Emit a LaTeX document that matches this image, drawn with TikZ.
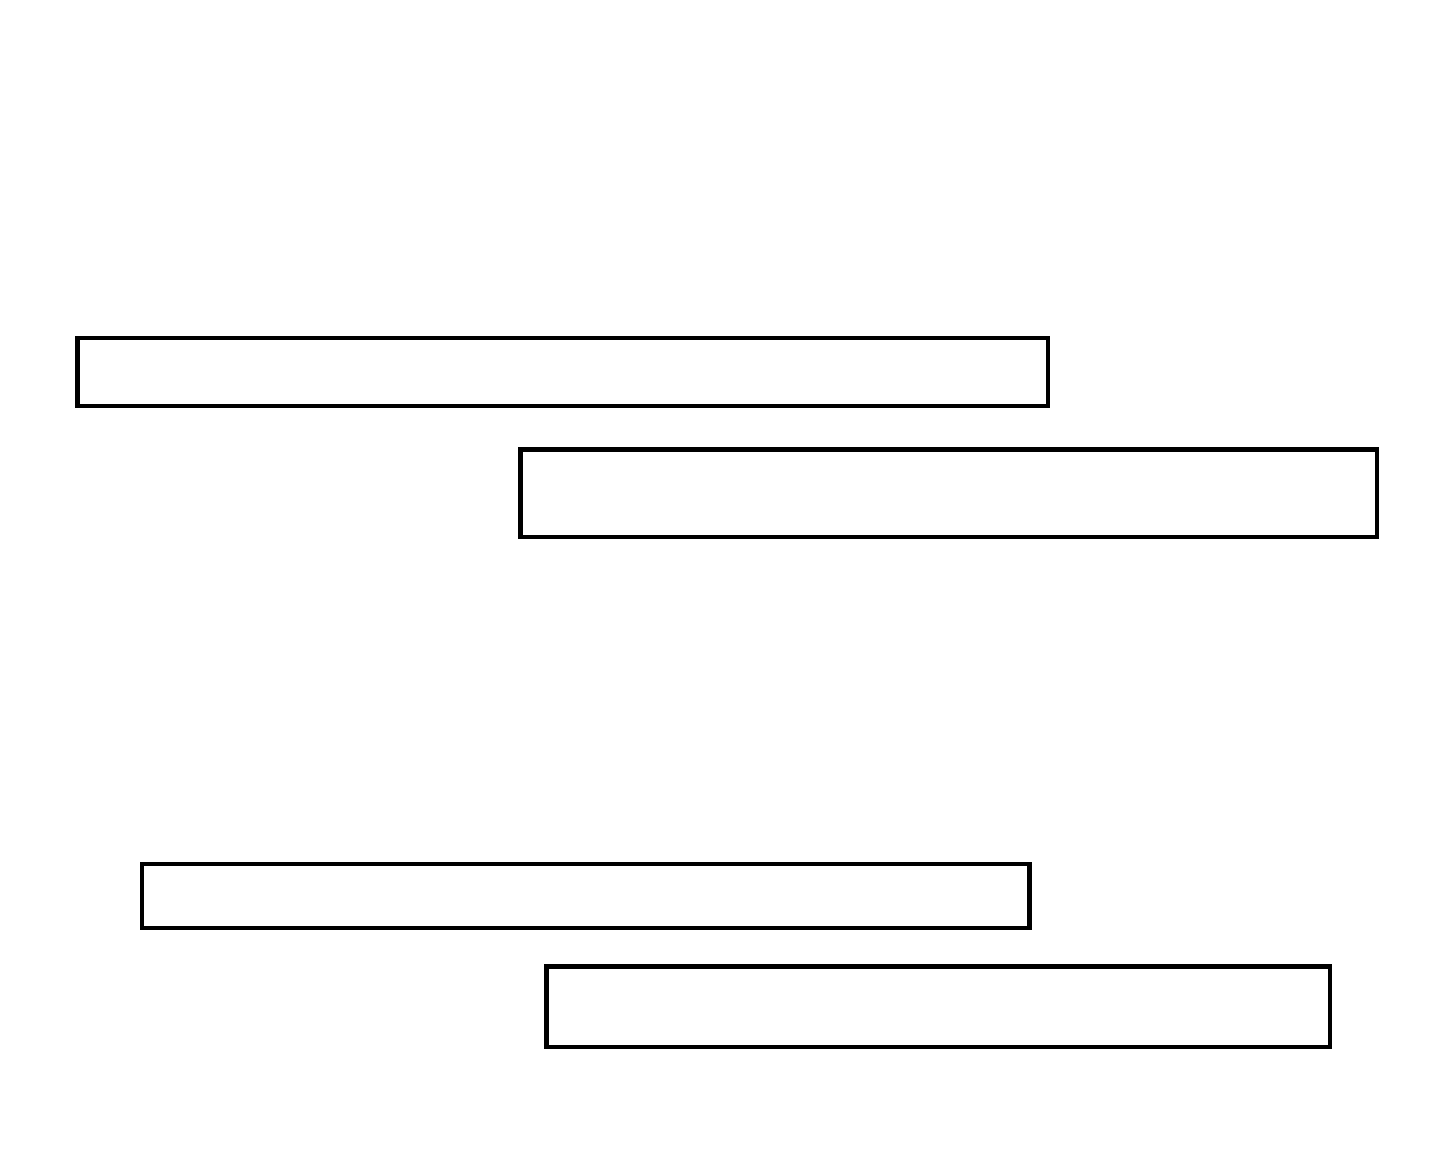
\documentclass[tikz,border=0pt]{standalone}
\usepackage{tikz}
\usetikzlibrary{positioning}

\begin{document}
\begin{tikzpicture}[x=0.1mm,y=-0.1mm,bar/.style={draw=black,line width=1.3pt,fill=white}]
            \useasboundingbox[fill=white] (0,0) rectangle (1440,1157);
            % upper pair
            \draw[bar] (77.5,338) rectangle (1048,406);
            \draw[bar] (520.5,449.5) rectangle (1377,537);
            % lower pair
            \draw[bar] (142,864) rectangle (1029.5,928);
            \draw[bar] (546.5,966.5) rectangle (1330,1047);
    \end{tikzpicture}
\end{document}
